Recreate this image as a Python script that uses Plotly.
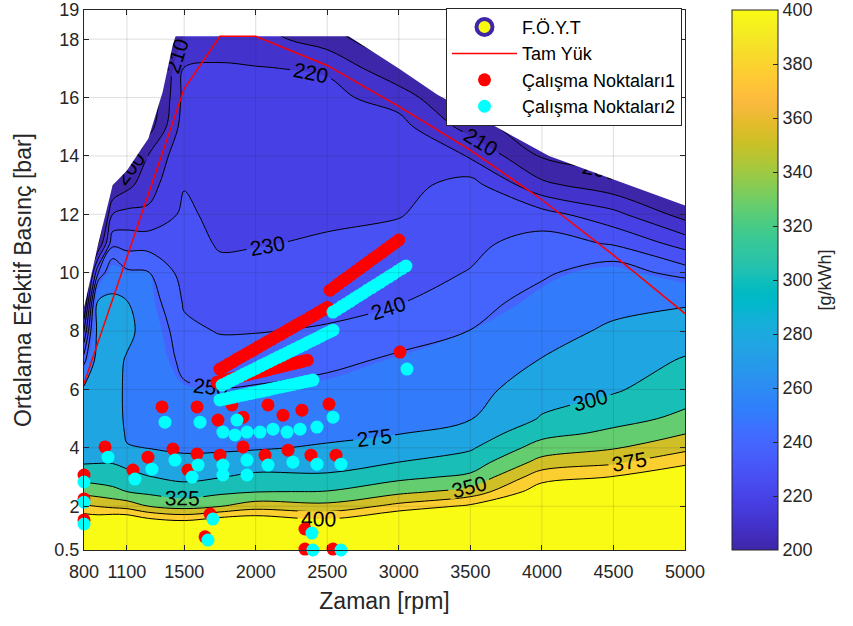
import numpy as np
import plotly.graph_objects as go

# ---------------- data ----------------
rpm = [800, 900, 1000, 1100, 1250, 1500, 1750, 2000, 2500, 3000, 3500, 4000, 4500, 5000]
bmep = [0.5, 1, 1.5, 2, 2.5, 3, 3.5, 4, 4.5, 5, 6, 7, 8, 9, 10, 11, 12, 13, 14, 15, 16, 17, 18, 19]

# BSFC [g/kWh], one list per rpm column, rows follow `bmep`
bsfc_cols = [
    [460, 440, 420, 379, 341, 316, 298, 296, 292, 288, 279, 245, 220, 195, 185, 180, 180, 180, 180, 180, 180, 180, 180, 180],
    [460, 440, 418, 374, 337, 314, 299, 296, 294, 292, 289, 286, 283, 278, 240, 200, 185, 180, 180, 180, 180, 180, 180, 180],
    [460, 440, 425, 369, 332, 312, 299, 297, 295, 293, 290, 286, 282, 280, 262, 237, 220, 200, 190, 185, 185, 185, 185, 185],
    [460, 440, 425, 365, 325, 309, 293, 277, 271, 268, 268, 272, 283, 276, 252, 236, 223, 207, 190, 185, 185, 185, 185, 185],
    [465, 445, 410, 350, 319, 301, 287, 274.5, 270, 268, 265, 263, 262, 256, 250.5, 236, 222, 216, 210.5, 195, 190, 188, 188, 188],
    [470, 450, 401, 340, 312, 294, 280, 272, 267, 262, 252, 246, 242, 239, 236, 234, 232, 229.5, 227.5, 225, 223, 220.5, 211, 205],
    [470, 450, 415, 349, 319, 299, 282, 272, 266, 261, 250.3, 244, 239.5, 236, 232.5, 229, 227, 225.5, 224.5, 223.5, 222.5, 221, 216, 212],
    [470, 450, 420, 363, 324, 306, 287, 273, 267, 262, 251, 245, 239.6, 236, 233, 229.5, 227.5, 226, 225, 224, 222.5, 220.5, 214, 208],
    [470, 450, 406, 357, 326, 304, 290, 277.5, 270, 265, 254, 247, 241, 237, 234, 231, 228.5, 227, 225.5, 224, 222.5, 219, 205, 195],
    [470, 455, 435, 383, 343, 319, 300.3, 287, 274, 270, 262, 252, 245, 239.5, 236, 233, 229.5, 226.5, 224, 223.5, 216, 201, 190, 180],
    [475, 460, 440, 405, 359, 330, 312, 297, 285, 274, 266, 258, 250.2, 245, 240.5, 237.5, 235, 234, 219.5, 206, 195, 190, 185, 185],
    [480, 470, 455, 435, 415, 390, 359, 336, 317, 302, 289, 276, 266, 255, 248, 244.5, 234, 212.5, 199, 190, 185, 185, 185, 185],
    [490, 480, 465, 445, 425, 401, 371, 348, 330, 317, 297, 288, 279, 268, 257, 239, 223, 204, 195, 190, 190, 190, 190, 190],
    [500, 490, 475, 460, 440, 420, 395, 368, 349, 330, 315, 302, 288, 272, 245, 226, 206, 195, 190, 190, 190, 190, 190, 190],
]

levels_fine = [200, 210, 220, 230, 240, 250]
levels_coarse = [275, 300, 325, 350, 375, 400]

# outline of the measured map (above it nothing is drawn)
map_edge_rpm = [800, 900, 1000, 1100, 1250, 1350, 1420, 1440, 2650, 3000, 3270, 3640, 4050, 5000]
map_edge_bmep = [8.8, 11.0, 13.0, 13.5, 14.6, 16.2, 17.8, 18.1, 18.1, 17.0, 16.1, 15.1, 14.0, 12.3]

# full-load curve
tam_yuk_rpm = [800, 1500, 1750, 2000, 2500, 3000, 3500, 4000, 4500, 5000]
tam_yuk_bmep = [6.2, 16.3, 18.1, 18.1, 17.1, 15.7, 14.2, 12.5, 10.6, 8.6]

# operating points 1 (red)
nokta1_rpm = [
    800, 800, 800, 947, 1142, 1247, 1422, 1527, 1590, 1750, 1911, 2065, 2226, 2386, 2561,
    1345, 1590, 1736, 1834, 1911, 2086, 2191, 2323, 2512,
    1681, 1646, 2344, 2344, 2540, 3008,
    1750, 1780, 1810, 1840, 1870, 1900, 1930, 1960, 1990, 2020, 2050, 2080, 2110, 2140, 2170,
    2200, 2230, 2260, 2290, 2320, 2350, 2380, 2410, 2440, 2470, 2500,
    2520, 2550, 2580, 2610, 2640, 2670, 2700, 2730, 2760, 2790, 2820, 2850, 2880, 2910, 2940, 2970, 3000,
    1730, 1760, 1790, 1820, 1850, 1880, 1910, 1940, 1970, 2000, 2030, 2060, 2090, 2120, 2150,
    2180, 2210, 2240, 2270, 2300, 2330, 2360,
]
nokta1_bmep = [
    3.07, 2.25, 1.53, 4.03, 3.24, 3.68, 3.96, 3.24, 3.79, 3.75, 4.03, 3.75, 3.92, 3.75, 3.75,
    5.40, 5.40, 4.95, 5.47, 5.05, 5.47, 5.12, 5.29, 5.50,
    1.73, 0.95, 1.22, 0.53, 0.53, 7.28,
    6.70, 6.78, 6.87, 6.95, 7.04, 7.12, 7.21, 7.29, 7.37, 7.46, 7.54, 7.63, 7.71, 7.80, 7.88,
    7.96, 8.05, 8.13, 8.22, 8.30, 8.38, 8.47, 8.55, 8.64, 8.72, 8.81,
    9.40, 9.51, 9.62, 9.73, 9.83, 9.94, 10.05, 10.16, 10.26, 10.37, 10.48, 10.58, 10.69, 10.80, 10.91, 11.01, 11.12,
    6.25, 6.29, 6.32, 6.36, 6.39, 6.43, 6.47, 6.50, 6.54, 6.57, 6.61, 6.64, 6.68, 6.72, 6.75,
    6.79, 6.82, 6.86, 6.89, 6.93, 6.97, 7.00,
]

# operating points 2 (cyan)
nokta2_rpm = [
    800, 800, 800, 968, 1156, 1275, 1436, 1555, 1597, 1771, 1771, 1939, 1939, 2086, 2260, 2428, 2596,
    1366, 1611, 1771, 1855, 1939, 2030, 2121, 2219, 2310, 2428, 2540, 1869,
    1701, 1666, 2393, 2400, 2596, 3057,
    2540, 2570, 2600, 2630, 2660, 2690, 2720, 2750, 2780, 2810, 2840, 2870, 2900, 2930, 2960, 2990, 3020, 3050,
    1765, 1795, 1825, 1855, 1885, 1915, 1945, 1975, 2005, 2035, 2065, 2095, 2125, 2155, 2185,
    2215, 2245, 2275, 2305, 2335, 2365, 2395, 2425, 2455, 2485, 2515, 2540,
    1750, 1780, 1810, 1840, 1870, 1900, 1930, 1960, 1990, 2020, 2050, 2080, 2110, 2140, 2170,
    2200, 2230, 2260, 2290, 2320, 2350, 2380, 2400,
]
nokta2_bmep = [
    2.83, 2.14, 1.39, 3.68, 2.93, 3.27, 3.58, 3.00, 3.41, 3.41, 3.07, 3.58, 3.07, 3.41, 3.51, 3.44, 3.44,
    4.88, 4.88, 4.54, 4.44, 4.54, 4.54, 4.64, 4.54, 4.64, 4.71, 5.05, 4.95,
    1.56, 0.84, 1.08, 0.50, 0.50, 6.70,
    8.65, 8.74, 8.84, 8.93, 9.02, 9.12, 9.21, 9.30, 9.40, 9.49, 9.58, 9.67, 9.77, 9.86, 9.95, 10.05, 10.14, 10.23,
    6.15, 6.22, 6.30, 6.37, 6.44, 6.52, 6.59, 6.66, 6.73, 6.81, 6.88, 6.95, 7.03, 7.10, 7.17,
    7.24, 7.32, 7.39, 7.46, 7.53, 7.61, 7.68, 7.75, 7.83, 7.90, 7.97, 8.03,
    5.64, 5.67, 5.70, 5.73, 5.77, 5.80, 5.83, 5.86, 5.89, 5.92, 5.95, 5.98, 6.02, 6.05, 6.08,
    6.11, 6.14, 6.17, 6.20, 6.24, 6.27, 6.30, 6.32,
]

x_ticks = [800, 1100, 1500, 2000, 2500, 3000, 3500, 4000, 4500, 5000]
y_ticks = [0.5, 2, 4, 6, 8, 10, 12, 14, 16, 18, 19]
y_ticktext = ["0.5", "2", "4", "6", "8", "10", "12", "14", "16", "18", "19"]
cbar_ticks = [200, 220, 240, 260, 280, 300, 320, 340, 360, 380, 400]
x_range = [800, 5000]
y_range = [0.5, 19]
c_range = [200, 400]

# ---------------- styling helpers ----------------
PARULA = [
    (0.2422, 0.1504, 0.6603), (0.2504, 0.1650, 0.7076), (0.2578, 0.1818, 0.7511), (0.2647, 0.1978, 0.7952),
    (0.2706, 0.2147, 0.8364), (0.2751, 0.2342, 0.8710), (0.2783, 0.2559, 0.8991), (0.2803, 0.2782, 0.9221),
    (0.2813, 0.3006, 0.9414), (0.2810, 0.3228, 0.9579), (0.2795, 0.3447, 0.9717), (0.2760, 0.3667, 0.9829),
    (0.2699, 0.3892, 0.9906), (0.2602, 0.4123, 0.9952), (0.2440, 0.4358, 0.9988), (0.2206, 0.4603, 0.9973),
    (0.1963, 0.4847, 0.9892), (0.1834, 0.5074, 0.9798), (0.1786, 0.5289, 0.9682), (0.1764, 0.5499, 0.9520),
    (0.1687, 0.5703, 0.9359), (0.1540, 0.5902, 0.9218), (0.1460, 0.6091, 0.9079), (0.1380, 0.6276, 0.8973),
    (0.1248, 0.6459, 0.8883), (0.1113, 0.6635, 0.8763), (0.0952, 0.6798, 0.8598), (0.0689, 0.6948, 0.8394),
    (0.0297, 0.7082, 0.8163), (0.0036, 0.7203, 0.7917), (0.0067, 0.7312, 0.7660), (0.0433, 0.7411, 0.7394),
    (0.0964, 0.7500, 0.7120), (0.1408, 0.7584, 0.6842), (0.1717, 0.7670, 0.6554), (0.1938, 0.7758, 0.6251),
    (0.2161, 0.7843, 0.5923), (0.2470, 0.7918, 0.5567), (0.2906, 0.7973, 0.5188), (0.3406, 0.8008, 0.4789),
    (0.3909, 0.8029, 0.4354), (0.4456, 0.8024, 0.3909), (0.5044, 0.7993, 0.3480), (0.5616, 0.7942, 0.3045),
    (0.6174, 0.7876, 0.2612), (0.6720, 0.7793, 0.2227), (0.7242, 0.7698, 0.1910), (0.7738, 0.7598, 0.1646),
    (0.8203, 0.7498, 0.1535), (0.8634, 0.7406, 0.1596), (0.9035, 0.7330, 0.1774), (0.9393, 0.7288, 0.2100),
    (0.9728, 0.7298, 0.2394), (0.9956, 0.7434, 0.2371), (0.9970, 0.7659, 0.2199), (0.9952, 0.7893, 0.2028),
    (0.9892, 0.8136, 0.1885), (0.9786, 0.8386, 0.1766), (0.9676, 0.8639, 0.1643), (0.9610, 0.8890, 0.1537),
    (0.9597, 0.9135, 0.1423), (0.9628, 0.9373, 0.1265), (0.9691, 0.9606, 0.1064), (0.9769, 0.9839, 0.0805),
]


def rgb(c):
    return "rgb(%d,%d,%d)" % tuple(round(255 * v) for v in c)


parula_scale = [[i / (len(PARULA) - 1), rgb(c)] for i, c in enumerate(PARULA)]


def level_color(v):
    idx = int((v - c_range[0]) / (c_range[1] - c_range[0]) * len(PARULA))
    idx = max(0, min(len(PARULA) - 1, idx))
    return rgb(PARULA[idx])


all_levels = levels_fine + levels_coarse
nlev = len(all_levels)

# step colour scale in "level index" space (MATLAB contourf: band coloured by its lower level)
band_scale = [[0.0, level_color(all_levels[0])]]
for k in range(nlev):
    lo = (k + 0.5) / nlev
    hi = min(1.0, (k + 1.5) / nlev)
    band_scale.append([lo, level_color(all_levels[k])])
    band_scale.append([hi, level_color(all_levels[k])])

Z = np.array(bsfc_cols, dtype=float).T  # rows = bmep, cols = rpm


def to_index(z):
    u = np.interp(z, all_levels, np.arange(nlev, dtype=float))
    u = np.where(z < all_levels[0], (z - all_levels[0]) / 10.0, u)
    u = np.where(z > all_levels[-1], nlev - 1 + (z - all_levels[-1]) / 25.0, u)
    return u


U = to_index(Z)

FONT = "Liberation Sans, Arial, Helvetica, sans-serif"
INK = "#262626"

fig = go.Figure()

# filled bands
fig.add_trace(go.Contour(
    x=rpm, y=bmep, z=U, colorscale=band_scale, autocontour=False,
    contours=dict(start=0, end=nlev - 1, size=1, coloring="fill", showlines=False),
    line=dict(width=0), showscale=False, hoverinfo="skip", showlegend=False,
))

# contour lines with labels
for lv in (levels_fine, levels_coarse):
    fig.add_trace(go.Contour(
        x=rpm, y=bmep, z=Z, autocontour=False,
        contours=dict(start=lv[0], end=lv[-1], size=lv[1] - lv[0], coloring="none",
                      showlabels=True, labelfont=dict(size=21, color="black", family=FONT)),
        line=dict(color="black", width=1), showscale=False, hoverinfo="skip", showlegend=False,
    ))

# area outside the measured map
fig.add_trace(go.Scatter(
    x=map_edge_rpm + [x_range[1], x_range[1], x_range[0]],
    y=map_edge_bmep + [map_edge_bmep[-1], y_range[1], y_range[1]],
    fill="toself", fillcolor="white", mode="lines", line=dict(width=0),
    hoverinfo="skip", showlegend=False,
))

# legend entry for the map
fig.add_trace(go.Scatter(
    x=[None], y=[None], mode="markers", name="F.Ö.Y.T", legendrank=1,
    marker=dict(symbol="circle", size=16, color="#f9fb0e", line=dict(color="#3e26a8", width=4)),
))

fig.add_trace(go.Scatter(
    x=tam_yuk_rpm, y=tam_yuk_bmep, mode="lines", name="Tam Yük", legendrank=2,
    line=dict(color="#ff0000", width=1.5),
))

fig.add_trace(go.Scatter(
    x=nokta1_rpm, y=nokta1_bmep, mode="markers", name="Çalışma Noktaları1", legendrank=3,
    marker=dict(color="#ff0000", size=13), cliponaxis=False,
))
fig.add_trace(go.Scatter(
    x=nokta2_rpm, y=nokta2_bmep, mode="markers", name="Çalışma Noktaları2", legendrank=4,
    marker=dict(color="#00ffff", size=13), cliponaxis=False,
))

# colour bar
fig.add_trace(go.Scatter(
    x=[None], y=[None], mode="markers", showlegend=False, hoverinfo="skip",
    marker=dict(color=[c_range[0]], colorscale=parula_scale, cmin=c_range[0], cmax=c_range[1],
                showscale=True,
                colorbar=dict(x=1.078, xanchor="left", xpad=0, ypad=0, y=0.5, yanchor="middle",
                              len=1, lenmode="fraction",
                              thickness=46, thicknessmode="pixels", outlinecolor=INK, outlinewidth=1,
                              tickvals=cbar_ticks, ticks="inside", ticklen=5, tickcolor=INK,
                              ticklabeloverflow="allow",
                              tickfont=dict(size=18, color=INK, family=FONT),
                              title=dict(text="[g/kWh]", side="right", font=dict(size=18, color=INK, family=FONT)))),
))

# grid lines on top (MATLAB style)
shapes = []
for xv in x_ticks[1:-1]:
    shapes.append(dict(type="line", xref="x", yref="paper", x0=xv, x1=xv, y0=0, y1=1, layer="above",
                       line=dict(color="rgba(38,38,38,0.15)", width=1)))
for yv in y_ticks[1:-1]:
    shapes.append(dict(type="line", xref="paper", yref="y", x0=0, x1=1, y0=yv, y1=yv, layer="above",
                       line=dict(color="rgba(38,38,38,0.15)", width=1)))

fig.update_layout(
    width=853, height=626,
    margin=dict(l=84, r=168, t=10, b=76, autoexpand=False),
    paper_bgcolor="white", plot_bgcolor="white",
    font=dict(family=FONT, color=INK),
    shapes=shapes,
    showlegend=True,
    legend=dict(x=0.995, xanchor="right", y=1.004, yanchor="top", bgcolor="white",
                bordercolor=INK, borderwidth=1, font=dict(size=18, color="black", family=FONT),
                itemwidth=65, tracegroupgap=0),
    xaxis=dict(range=x_range, tickvals=x_ticks, ticks="inside", ticklen=5, tickcolor=INK,
               showline=True, linecolor=INK, linewidth=1, mirror="allticks", showgrid=False,
               zeroline=False, layer="above traces", automargin=False, ticklabelstandoff=5,
               ticklabeloverflow="allow",
               tickfont=dict(size=18, color=INK, family=FONT),
               title=dict(text="Zaman [rpm]", font=dict(size=23, color=INK, family=FONT), standoff=12)),
    yaxis=dict(range=y_range, tickvals=y_ticks, ticktext=y_ticktext, ticks="inside", ticklen=5,
               tickcolor=INK, showline=True, linecolor=INK, linewidth=1, mirror="allticks",
               showgrid=False, zeroline=False, layer="above traces", automargin=False,
               ticklabeloverflow="allow",
               tickfont=dict(size=18, color=INK, family=FONT),
               title=dict(text="Ortalama Efektif Basınç [bar]", font=dict(size=23, color=INK, family=FONT),
                          standoff=16)),
)

fig.write_html("out.html", config={"displayModeBar": False},
               post_script="document.body.style.margin='0';document.body.style.overflow='hidden';")
